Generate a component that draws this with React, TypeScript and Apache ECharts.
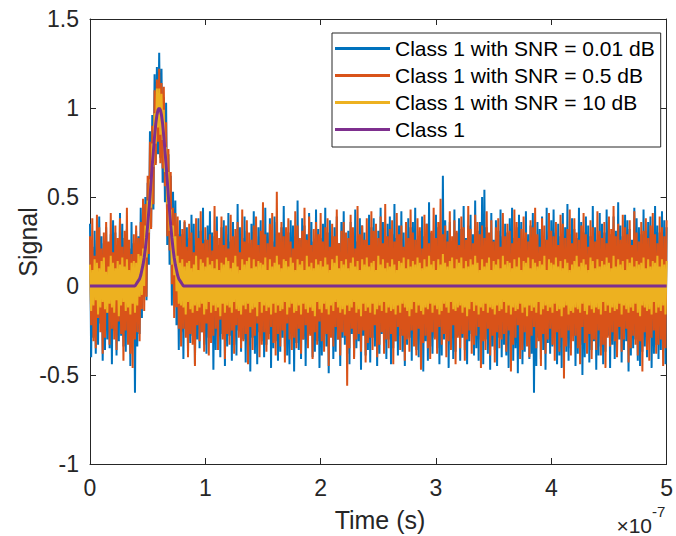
import React, { useEffect, useRef } from "react";
import * as echarts from "echarts";

// Time axis in units of 1e-7 s, one sample every 0.01 (= 1 ns)
const TIME_STEP = 0.01;
// Signal values below are written in hundredths
const VALUE_SCALE = 100;

const X_TICKS = [0, 1, 2, 3, 4, 5];
const Y_MIN = -1;
const Y_MAX = 1.5;

const SERIES_NAMES = [
  "Class 1 with SNR = 0.01 dB",
  "Class 1 with SNR = 0.5 dB",
  "Class 1 with SNR = 10 dB",
  "Class 1",
];

// Class 1 with SNR = 0.01 dB
const SNR_001 = [
  35,-40,22,-29,31,-38,26,-33,39,-21,28,-42,24,-36,33,-30,20,-35,29,-44,
  37,-25,30,-39,23,-31,41,-28,35,-34,27,-37,32,-29,21,-45,36,-26,24,-60,
  31,-34,28,-27,44,-18,45,-4,50,-8,58,12,87,33,96,43,119,69,123,74,
  131,72,122,58,106,47,103,23,74,12,62,-11,53,-9,48,-22,29,-36,37,-26,
  29,-41,36,-24,33,-37,27,-32,40,-28,35,-44,25,-30,38,-35,31,-26,44,-33,
  26,-38,34,-29,42,-23,30,-47,28,-36,39,-31,23,-40,33,-27,37,-45,29,-34,
  41,-28,25,-42,36,-33,28,-39,46,-25,33,-37,27,-30,39,-43,31,-36,24,-48,
  35,-29,42,-38,28,-44,33,-26,37,-31,26,-40,44,-33,30,-27,38,-46,25,-35,
  39,-31,36,-42,27,-37,33,-29,45,-34,24,-39,30,-44,37,-27,34,-48,28,-32,
  48,-36,26,-41,38,-30,34,-45,29,-33,41,-27,36,-40,25,-37,43,-31,32,-46,
  27,-39,35,-28,44,-34,30,-49,37,-26,28,-41,33,-37,39,-30,24,-45,36,-29,
  42,-33,27,-38,31,-44,36,-27,29,-40,43,-35,25,-31,38,-47,34,-28,30,-39,
  26,-36,40,-43,33,-29,38,-34,24,-45,31,-38,44,-27,36,-32,28,-41,35,-30,
  39,-44,29,-35,46,-31,27,-39,34,-28,42,-37,30,-45,25,-33,38,-29,33,-42,
  36,-30,44,-36,26,-40,31,-33,39,-48,28,-31,35,-42,47,-34,30,-38,26,-29,
  40,-35,33,-44,28,-39,62,-30,37,-27,31,-46,36,-33,25,-41,43,-37,30,-28,
  38,-42,32,-29,45,-36,27,-44,34,-31,40,-27,29,-39,48,-35,31,-42,36,-30,
  50,-44,54,-30,33,-38,29,-47,41,-34,26,-36,37,-45,31,-29,43,-40,28,-33,
  35,-39,30,-46,38,-28,44,-42,27,-35,33,-49,40,-31,36,-44,25,-37,42,-30,
  29,-41,34,-38,41,-60,27,-45,36,-29,32,-41,39,-36,26,-47,44,-32,31,-38,
  37,-34,43,-27,30,-44,35,-39,28,-46,41,-31,33,-37,46,-42,29,-35,38,-28,
  32,-45,27,-38,44,-33,36,-50,30,-40,39,-29,34,-43,28,-36,45,-31,33,-47,
  26,-39,41,-34,35,-44,30,-37,43,-28,36,-46,29,-33,39,-41,31,-38,47,-30,
  34,-43,28,-36,40,-31,37,-48,32,-39,26,-35,44,-30,38,-42,33,-45,29,-37,
  43,-34,31,-40,36,-29,39,-46,27,-38,45,-33,34,-41,30,-36,42,-31,37,-44,
  33,
];

// Class 1 with SNR = 0.5 dB
const SNR_05 = [
  28,-22,38,-31,17,-35,40,-18,33,-26,21,-38,30,-29,36,-15,25,-33,41,-24,
  19,-30,34,-36,27,-20,38,-27,22,-42,31,-25,44,-33,26,-38,18,-46,29,-30,
  34,-26,27,-31,36,-13,49,-14,46,-6,62,18,81,32,90,46,110,68,116,81,
  122,69,114,66,112,56,92,28,77,20,64,1,44,-18,41,-12,39,-24,28,-34,
  32,-24,37,-29,22,-40,35,-27,30,-33,19,-45,38,-22,27,-31,42,-26,24,-37,
  33,-21,26,-39,29,-32,20,-28,45,-24,31,-36,27,-19,39,-30,23,-41,34,-27,
  21,-33,40,-25,28,-38,32,-22,36,-29,19,-35,43,-31,25,-27,37,-44,30,-23,
  26,-36,34,-28,39,-21,23,-40,31,-33,47,-26,29,-37,24,-30,35,-23,41,-32,
  22,-39,53,-27,30,-34,36,-25,28,-43,33,-21,38,-30,25,-36,21,-29,42,-35,
  34,-24,27,-38,31,-30,44,-22,26,-35,39,-28,23,-41,32,-26,36,-33,29,-20,
  41,-31,25,-37,33,-27,38,-45,22,-29,35,-34,28,-23,43,-30,24,-39,31,-26,
  36,-28,30,-56,27,-35,40,-24,33,-41,21,-30,45,-27,29,-37,34,-25,26,-43,
  38,-32,23,-29,42,-36,31,-22,35,-40,27,-33,39,-26,24,-38,46,-30,28,-35,
  32,-27,37,-44,25,-31,41,-23,29,-36,34,-28,22,-42,36,-30,27,-37,43,-25,
  30,-34,26,-39,38,-24,33,-47,21,-32,40,-28,35,-35,24,-41,31,-26,44,-30,
  27,-38,36,-23,49,-33,29,-27,34,-40,25,-31,42,-36,28,-22,37,-44,31,-29,
  23,-35,39,-27,33,-42,26,-30,45,-25,32,-38,24,-33,40,-28,36,-23,29,-46,
  34,-31,27,-36,42,-24,30,-39,37,-28,25,-43,33,-26,38,-35,22,-30,41,-27,
  28,-37,35,-25,31,-48,24,-33,43,-29,36,-22,27,-41,32,-36,39,-26,30,-34,
  25,-40,37,-28,33,-23,44,-35,29,-31,22,-45,38,-27,34,-38,26,-30,41,-24,
  31,-33,28,-42,36,-26,23,-37,40,-29,35,-52,27,-34,32,-25,43,-39,24,-31,
  38,-28,30,-35,26,-44,34,-23,41,-32,29,-38,22,-27,37,-41,33,-30,25,-36,
  42,-25,31,-39,27,-33,36,-46,24,-29,39,-34,32,-26,45,-31,28,-40,35,-23,
  26,-37,40,-30,33,-24,29,-43,37,-35,23,-28,42,-33,30,-39,25,-31,36,-48,
  31,-26,38,-36,27,-42,34,-29,41,-25,29,-38,24,-33,39,-30,33,-45,28,-35,
  37,
];

// Class 1 with SNR = 10 dB
const SNR_10 = [
  12,-14,9,-11,15,-8,13,-16,10,-12,14,-9,16,-13,8,-15,11,-10,17,-12,
  13,-15,10,-8,14,-17,12,-11,16,-9,11,-14,15,-12,9,-16,13,-10,14,-15,
  13,-11,18,-6,17,-5,21,0,34,16,48,30,60,44,80,67,97,80,111,89,
  111,85,108,82,99,64,78,46,64,31,43,12,34,6,28,-3,17,-10,13,-11,
  15,-12,11,-16,13,-9,14,-13,10,-15,12,-11,17,-14,9,-12,15,-10,13,-16,
  11,-13,16,-9,12,-15,14,-11,10,-14,15,-12,9,-17,13,-10,12,-15,16,-11,
  14,-12,10,-15,13,-9,17,-13,11,-14,9,-16,15,-11,12,-13,14,-10,16,-15,
  10,-13,15,-12,11,-17,14,-9,13,-15,12,-11,16,-14,9,-12,15,-16,11,-10,
  13,-15,17,-11,12,-14,10,-13,15,-9,14,-16,11,-12,16,-10,13,-15,9,-14,
  15,-11,12,-16,14,-10,9,-13,17,-15,11,-12,13,-14,10,-17,15,-9,12,-13,
  14,-15,11,-10,16,-13,12,-16,9,-11,15,-14,13,-9,17,-12,10,-15,14,-13,
  12,-16,15,-11,10,-14,13,-12,16,-9,11,-15,14,-13,9,-17,15,-10,12,-14,
  16,-12,11,-15,13,-10,14,-16,9,-13,17,-11,12,-14,15,-9,10,-15,13,-12,
  11,-14,15,-13,12,-16,9,-11,14,-15,13,-10,16,-12,10,-14,15,-17,11,-13,
  14,-9,12,-15,16,-11,13,-14,10,-16,15,-12,11,-13,17,-10,12,-15,14,-11,
  9,-13,15,-16,12,-14,18,-10,13,-12,11,-15,14,-9,16,-13,10,-14,15,-12,
  13,-11,16,-15,10,-12,14,-17,11,-13,15,-9,12,-14,17,-11,13,-16,9,-12,
  15,-14,11,-10,13,-15,16,-12,9,-13,14,-16,12,-11,15,-14,10,-13,17,-9,
  12,-15,14,-11,13,-16,10,-12,15,-14,11,-13,16,-10,9,-15,14,-12,13,-17,
  16,-11,10,-14,15,-12,13,-15,11,-9,14,-16,12,-13,17,-11,9,-14,15,-12,
  13,-15,12,-10,16,-14,11,-13,14,-17,10,-12,15,-11,13,-16,9,-14,12,-15,
  14,-12,17,-13,11,-15,13,-10,15,-14,12,-16,9,-11,16,-13,14,-15,10,-12,
  15,-13,11,-16,14,-9,12,-14,16,-11,13,-15,10,-12,17,-14,11,-13,15,-10,
  12,-16,14,-11,9,-13,15,-15,13,-12,16,-14,11,-10,14,-15,12,-17,13,-11,
  16,-12,10,-14,15,-13,11,-16,14,-9,13,-15,17,-12,11,-14,15,-11,12,-16,
  14,
];

// Class 1 (clean pulse)
const CLASS1_T = [
  0, 0.38, 0.39, 0.4, 0.41, 0.42, 0.43, 0.44, 0.45, 0.46, 0.47, 0.48, 0.49,
  0.5, 0.51, 0.52, 0.53, 0.54, 0.55, 0.56, 0.57, 0.58, 0.59, 0.6, 0.61, 0.62,
  0.63, 0.64, 0.65, 0.66, 0.67, 0.68, 0.69, 0.7, 0.71, 0.72, 0.73, 0.74, 0.75,
  0.76, 0.77, 0.78, 0.79, 0.8, 0.81, 0.82, 5,
];
const CLASS1_V = [
  0, 0, 0, 0.01, 0.02, 0.03, 0.04, 0.06, 0.09, 0.12, 0.16, 0.21, 0.27,
  0.34, 0.42, 0.5, 0.59, 0.68, 0.76, 0.84, 0.91, 0.96, 0.99, 1.0, 0.99, 0.96,
  0.91, 0.84, 0.76, 0.68, 0.59, 0.5, 0.42, 0.34, 0.27, 0.21, 0.16, 0.12, 0.09,
  0.06, 0.04, 0.03, 0.02, 0.01, 0, 0, 0,
];

const COLORS = ["#0072BD", "#D95319", "#EDB120", "#7E2F8E"];
const AXIS_COLOR = "#262626";
const FONT = "'Liberation Sans', Arial, Helvetica, sans-serif";

function toPairs(values: number[]) {
  return values.map((v, i) => [i * TIME_STEP, v / VALUE_SCALE]);
}

export default function App() {
  const ref = useRef<HTMLDivElement>(null);

  useEffect(() => {
    if (!ref.current) return;
    const chart = echarts.init(ref.current, undefined, { renderer: "svg" });

    const axisCommon = {
      axisLine: { show: true, onZero: false, lineStyle: { color: AXIS_COLOR, width: 1 } },
      axisTick: { show: true, inside: true, length: 6, lineStyle: { color: AXIS_COLOR, width: 1 } },
      splitLine: { show: false },
    };

    const noisy = (name: string, values: number[], color: string) => ({
      name,
      type: "line",
      data: toPairs(values),
      showSymbol: false,
      symbol: "none",
      color,
      lineStyle: { color, width: 2 },
      xAxisIndex: 0,
      yAxisIndex: 0,
      emphasis: { disabled: true },
    });

    chart.setOption({
      animation: false,
      backgroundColor: "#ffffff",
      textStyle: { fontFamily: FONT },
      grid: { left: 90, right: 5, top: 19, bottom: 72, containLabel: false },
      xAxis: [
        {
          type: "value",
          min: X_TICKS[0],
          max: X_TICKS[X_TICKS.length - 1],
          interval: 1,
          position: "bottom",
          ...axisCommon,
          axisLabel: { color: AXIS_COLOR, fontSize: 23, margin: 12, fontFamily: FONT },
        },
        {
          type: "value",
          min: X_TICKS[0],
          max: X_TICKS[X_TICKS.length - 1],
          interval: 1,
          position: "top",
          ...axisCommon,
          axisLabel: { show: false },
        },
      ],
      yAxis: [
        {
          type: "value",
          min: Y_MIN,
          max: Y_MAX,
          interval: 0.5,
          position: "left",
          ...axisCommon,
          axisLabel: { color: AXIS_COLOR, fontSize: 23, margin: 11, fontFamily: FONT },
        },
        {
          type: "value",
          min: Y_MIN,
          max: Y_MAX,
          interval: 0.5,
          position: "right",
          ...axisCommon,
          axisLabel: { show: false },
        },
      ],
      legend: {
        orient: "vertical",
        left: 332,
        top: 33,
        data: SERIES_NAMES.map((n) => ({ name: n, icon: "rect" })),
        itemWidth: 55,
        itemHeight: 3,
        itemGap: 6,
        padding: [5, 6, 7, 3],
        backgroundColor: "#ffffff",
        borderColor: AXIS_COLOR,
        borderWidth: 1,
        borderRadius: 0,
        selectedMode: false,
        textStyle: { color: "#000000", fontSize: 21, lineHeight: 21, fontFamily: FONT },
      },
      graphic: [
        {
          type: "text",
          x: 380,
          y: 520,
          style: {
            text: "Time (s)",
            fill: AXIS_COLOR,
            font: `25px ${FONT}`,
            textAlign: "center",
            textVerticalAlign: "middle",
          },
        },
        {
          type: "text",
          x: 28,
          y: 242,
          rotation: Math.PI / 2,
          style: {
            text: "Signal",
            fill: AXIS_COLOR,
            font: `25px ${FONT}`,
            textAlign: "center",
            textVerticalAlign: "middle",
          },
        },
        {
          type: "text",
          x: 652,
          y: 525,
          style: {
            text: "×10",
            fill: AXIS_COLOR,
            font: `21px ${FONT}`,
            textAlign: "right",
            textVerticalAlign: "middle",
          },
        },
        {
          type: "text",
          x: 652,
          y: 511,
          style: {
            text: "-7",
            fill: AXIS_COLOR,
            font: `15px ${FONT}`,
            textAlign: "left",
            textVerticalAlign: "middle",
          },
        },
      ],
      series: [
        noisy(SERIES_NAMES[0], SNR_001, COLORS[0]),
        noisy(SERIES_NAMES[1], SNR_05, COLORS[1]),
        noisy(SERIES_NAMES[2], SNR_10, COLORS[2]),
        {
          name: SERIES_NAMES[3],
          type: "line",
          data: CLASS1_T.map((t, i) => [t, CLASS1_V[i]]),
          showSymbol: false,
          symbol: "none",
          color: COLORS[3],
          lineStyle: { color: COLORS[3], width: 3 },
          emphasis: { disabled: true },
        },
      ],
    });

    return () => chart.dispose();
  }, []);

  return (
    <div
      ref={ref}
      style={{ position: "absolute", left: 0, top: 0, width: 676, height: 536 }}
    />
  );
}
